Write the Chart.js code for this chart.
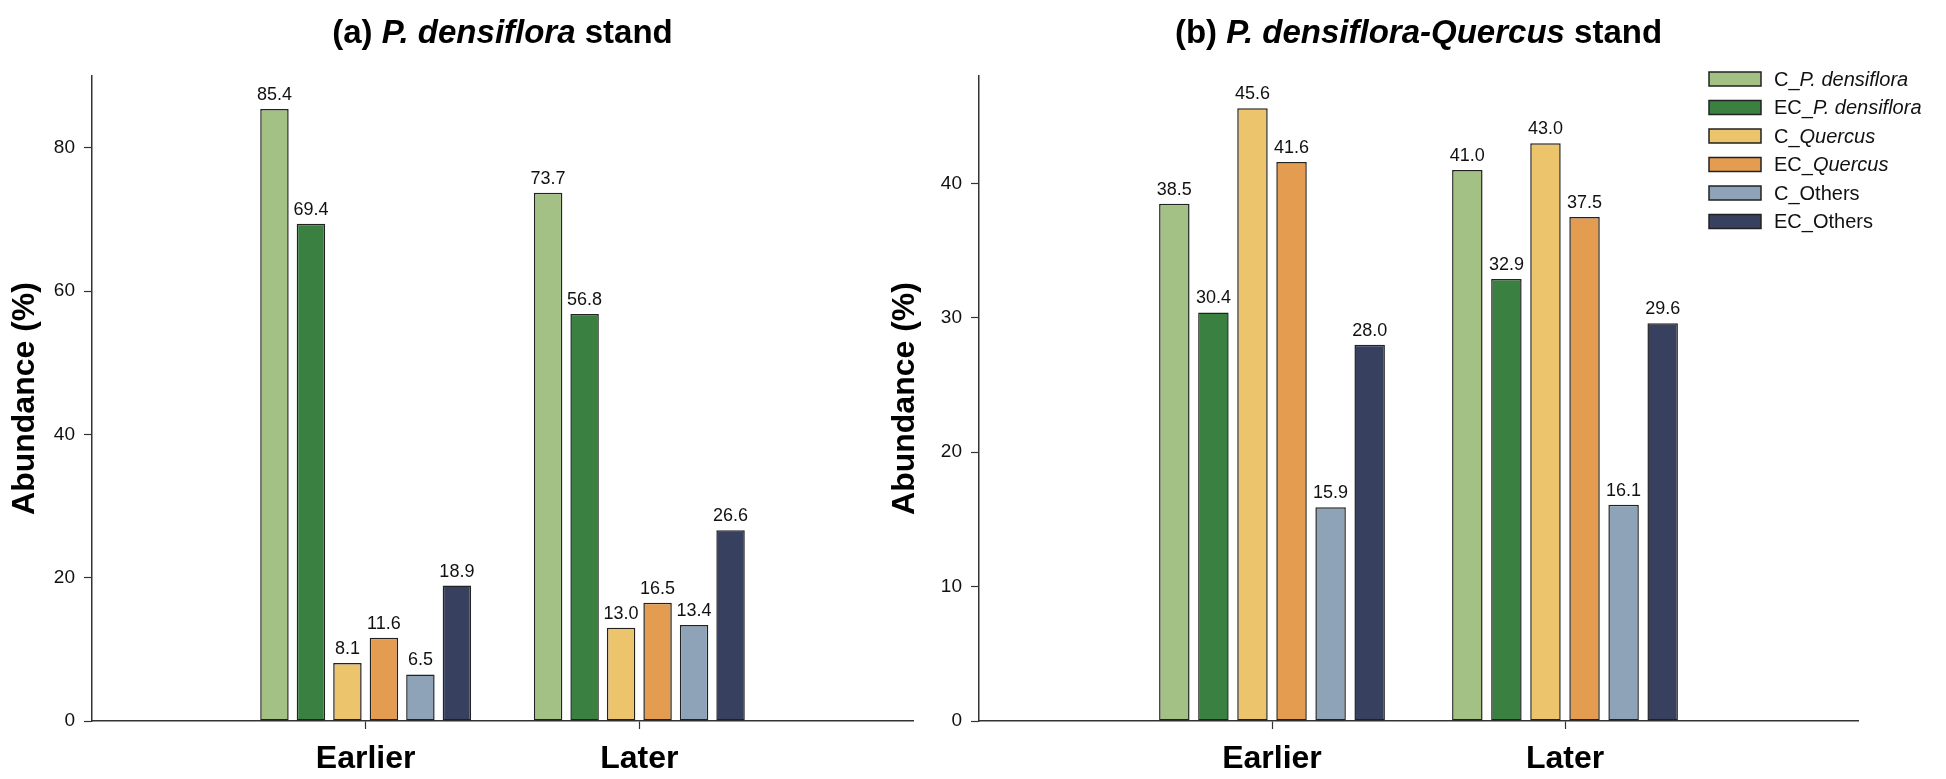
<!DOCTYPE html>
<html>
<head>
<meta charset="utf-8">
<script src="https://cdn.jsdelivr.net/npm/chart.js@4.4.0/dist/chart.umd.min.js"></script>
<style>
    html, body { margin: 0; padding: 0; background: #ffffff; }
    #wrap { position: relative; width: 1946px; height: 779px; overflow: hidden; }
    #chart-a { position: absolute; left: 0; top: 0; }
    #chart-b { position: absolute; left: 870px; top: 0; }
</style>
</head>
<body>
<div id="wrap">
    <canvas id="chart-a" width="960" height="779"></canvas>
    <canvas id="chart-b" width="1076" height="779"></canvas>
</div>
<script>
// padded categories so the two groups sit at 1/3 and 2/3 of the axis
const categories = ["", "Earlier", "Later", ""];

const seriesNames = [
    [{ t: "C_" }, { t: "P. densiflora", i: true }],
    [{ t: "EC_" }, { t: "P. densiflora", i: true }],
    [{ t: "C_" }, { t: "Quercus", i: true }],
    [{ t: "EC_" }, { t: "Quercus", i: true }],
    [{ t: "C_Others" }],
    [{ t: "EC_Others" }]
];
const seriesColors = ["#a3c184", "#3a8041", "#ecc46c", "#e39c50", "#8fa3b8", "#384060"];

// (a) P. densiflora stand: [Earlier, Later]
const standA = [
    [85.4, 73.7],
    [69.4, 56.8],
    [8.1, 13.0],
    [11.6, 16.5],
    [6.5, 13.4],
    [18.9, 26.6]
];
// (b) P. densiflora-Quercus stand: [Earlier, Later]
const standB = [
    [38.5, 41.0],
    [30.4, 32.9],
    [45.6, 43.0],
    [41.6, 37.5],
    [15.9, 16.1],
    [28.0, 29.6]
];

const yMaxA = 90, yStepA = 20;
const yMaxB = 48, yStepB = 10;

const titleA = [{ t: "(a) " }, { t: "P. densiflora", i: true }, { t: " stand" }];
const titleB = [{ t: "(b) " }, { t: "P. densiflora-Quercus", i: true }, { t: " stand" }];

const FONT = '"Liberation Sans", Arial, Helvetica, sans-serif';
const INK = "#222222";

function makeDatasets(values) {
    return values.map(function (pair, k) {
        return {
            label: seriesNames[k].map(s => s.t).join(""),
            data: [null, pair[0], pair[1], null],
            backgroundColor: seriesColors[k],
            borderColor: INK,
            borderWidth: 1.5,
            borderSkipped: false,
            categoryPercentage: 0.8,
            barPercentage: 0.78
        };
    });
}

// draw a line of text made of plain / italic pieces
function drawRich(ctx, parts, x, y, size, bold, align) {
    const weight = bold ? "bold " : "";
    let total = 0;
    parts.forEach(p => {
        ctx.font = (p.i ? "italic " : "") + weight + size + "px " + FONT;
        total += ctx.measureText(p.t).width;
    });
    let cx = align === "center" ? x - total / 2 : x;
    ctx.textAlign = "left";
    parts.forEach(p => {
        ctx.font = (p.i ? "italic " : "") + weight + size + "px " + FONT;
        ctx.fillText(p.t, cx, y);
        cx += ctx.measureText(p.t).width;
    });
}

const valueLabels = {
    id: "valueLabels",
    afterDatasetsDraw(chart) {
        const ctx = chart.ctx;
        ctx.save();
        ctx.fillStyle = "#111111";
        ctx.font = "18px " + FONT;
        ctx.textAlign = "center";
        ctx.textBaseline = "bottom";
        chart.data.datasets.forEach(function (ds, i) {
            chart.getDatasetMeta(i).data.forEach(function (bar, j) {
                const v = ds.data[j];
                if (v === null) return;
                ctx.fillText(v.toFixed(1), bar.x, bar.y - 5);
            });
        });
        ctx.restore();
    }
};

const panelTitle = {
    id: "panelTitle",
    afterDraw(chart, args, opts) {
        const ctx = chart.ctx;
        const area = chart.chartArea;
        ctx.save();
        ctx.fillStyle = "#000000";
        ctx.textBaseline = "middle";
        drawRich(ctx, opts.parts, (area.left + area.right) / 2, 34, 33, true, "center");
        ctx.restore();
    }
};

const richLegend = {
    id: "richLegend",
    afterDraw(chart, args, opts) {
        if (!opts.show) return;
        const ctx = chart.ctx;
        ctx.save();
        chart.data.datasets.forEach(function (ds, k) {
            const top = opts.top + k * opts.pitch;
            ctx.fillStyle = ds.backgroundColor;
            ctx.fillRect(opts.left, top, 52, 14);
            ctx.strokeStyle = INK;
            ctx.lineWidth = 1.5;
            ctx.strokeRect(opts.left, top, 52, 14);
            ctx.fillStyle = "#111111";
            ctx.textBaseline = "middle";
            drawRich(ctx, seriesNames[k], opts.left + 65, top + 8, 20, false, "left");
        });
        ctx.restore();
    }
};

function buildChart(el, values, yMax, yStep, title, box, legendOpts) {
    return new Chart(el, {
        type: "bar",
        data: {
            labels: categories,
            datasets: makeDatasets(values)
        },
        options: {
            responsive: false,
            animation: false,
            layout: {
                padding: { left: 0, right: box.right, top: 76, bottom: 0 }
            },
            scales: {
                x: {
                    offset: false,
                    afterFit: scale => { scale.height = 58; },
                    border: { color: "#333333", width: 1.5 },
                    grid: {
                        offset: false,
                        drawOnChartArea: false,
                        tickLength: 8,
                        tickWidth: 1.2,
                        tickColor: ctx => (ctx.index === 1 || ctx.index === 2) ? "#333333" : "rgba(0,0,0,0)"
                    },
                    ticks: {
                        autoSkip: false,
                        maxRotation: 0,
                        padding: 11,
                        color: "#000000",
                        font: { family: FONT, size: 32, weight: "bold" }
                    }
                },
                y: {
                    min: 0,
                    max: yMax,
                    afterFit: scale => { scale.width = box.left; },
                    border: { color: "#333333", width: 1.5 },
                    grid: {
                        drawOnChartArea: false,
                        tickLength: 8,
                        tickWidth: 1.2,
                        tickColor: "#333333"
                    },
                    ticks: {
                        stepSize: yStep,
                        includeBounds: false,
                        padding: 9,
                        color: "#111111",
                        font: { family: FONT, size: 19 }
                    },
                    title: {
                        display: true,
                        text: "Abundance (%)",
                        color: "#000000",
                        padding: { top: box.titlePad, bottom: 0 },
                        font: { family: FONT, size: 32, weight: "bold" }
                    }
                }
            },
            plugins: {
                legend: { display: false },
                tooltip: { enabled: false },
                panelTitle: { parts: title },
                richLegend: legendOpts
            }
        },
        plugins: [valueLabels, panelTitle, richLegend]
    });
}

const chartA = buildChart(
    document.getElementById("chart-a"), standA, yMaxA, yStepA, titleA,
    { left: 92, right: 47, titlePad: 6 },
    { show: false }
);

const chartB = buildChart(
    document.getElementById("chart-b"), standB, yMaxB, yStepB, titleB,
    { left: 109, right: 88, titlePad: 16 },
    { show: true, left: 839, top: 72, pitch: 28.5 }
);
</script>
</body>
</html>
